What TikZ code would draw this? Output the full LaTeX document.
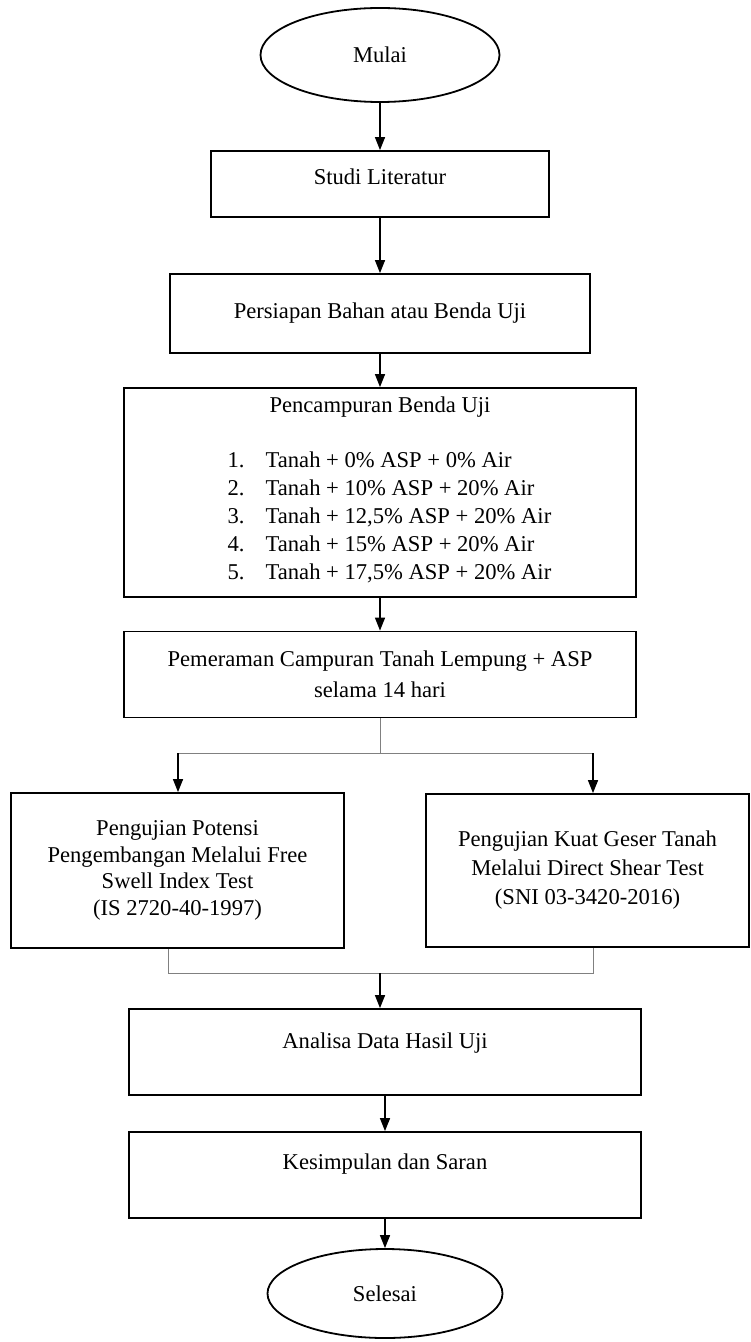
\documentclass[tikz,border=0pt]{standalone}
\usepackage{fontspec}
\setmainfont{Liberation Serif}
\usetikzlibrary{shapes.geometric,arrows.meta}

\begin{document}
\begin{tikzpicture}[x=0.5pt,y=-0.5pt,
  font=\fontsize{11.3}{14}\selectfont,
  box/.style={draw,line width=0.9pt,align=center,inner sep=0pt},
  term/.style={draw,ellipse,line width=0.9pt,inner sep=0pt},
  arr/.style={-{Triangle[length=6.5pt,width=5pt]},line width=0.75pt},
  link/.style={draw=gray,line width=0.5pt}]
\useasboundingbox (0,0) rectangle (750,1342);

\node[term,minimum width=119.5pt,minimum height=47pt] (mulai) at (380,55) {Mulai};
\node[box,minimum width=169pt,minimum height=33pt,text depth=7pt] (studi) at (380,184) {Studi Literatur};
\node[box,minimum width=210pt,minimum height=39.5pt] (bahan) at (380,313.5) {Persiapan Bahan atau Benda Uji};
\node[box,minimum width=256pt,minimum height=104.5pt] (campur) at (380,492.5) {Pencampuran Benda Uji\\[14pt]
  \hspace*{9.5pt}\begin{tabular}{@{}l@{\hspace{10.5pt}}l@{}}
  1. & Tanah + 0\% ASP + 0\% Air\\
  2. & Tanah + 10\% ASP + 20\% Air\\
  3. & Tanah + 12,5\% ASP + 20\% Air\\
  4. & Tanah + 15\% ASP + 20\% Air\\
  5. & Tanah + 17,5\% ASP + 20\% Air
  \end{tabular}};
\node[box,minimum width=256pt,minimum height=43pt] (peram) at (380,674.5) {Pemeraman Campuran Tanah Lempung + ASP\\[1.5pt] selama 14 hari};

\node[box,minimum width=166.5pt,minimum height=77.5pt,font=\fontsize{11.3}{13.3}\selectfont] (swell) at (177.5,870.5) {Pengujian Potensi\\ Pengembangan Melalui Free\\ Swell Index Test\\ (IS 2720-40-1997)};
\node[box,minimum width=161.5pt,minimum height=76.5pt,font=\fontsize{11.3}{14.5}\selectfont] (geser) at (587.5,870.5) {Pengujian Kuat Geser Tanah\\ Melalui Direct Shear Test\\ (SNI 03-3420-2016)};

\node[box,minimum width=256pt,minimum height=43pt,text depth=11pt] (analisa) at (385,1052) {Analisa Data Hasil Uji};
\node[box,minimum width=256pt,minimum height=43pt,text depth=13pt] (saran) at (385,1175) {Kesimpulan dan Saran};
\node[term,minimum width=117.5pt,minimum height=44.5pt] (selesai) at (385,1293.5) {Selesai};

\draw[arr] (mulai) -- (studi);
\draw[arr] (studi) -- (bahan);
\draw[arr] (bahan) -- (campur);
\draw[arr] (campur) -- (peram);

% cabang ke dua pengujian
\coordinate (pisah) at (380,753);
\coordinate (pisahL) at (178,753);
\coordinate (pisahR) at (593,753);
\draw[link] (peram) -- (pisah);
\draw[link] (pisahL) -- (pisahR);
\draw[arr] (pisahL) -- (pisahL |- swell.north);
\draw[arr] (pisahR) -- (pisahR |- geser.north);

% gabung lagi
\coordinate (gabungL) at (168,973);
\coordinate (gabungR) at (593,973);
\coordinate (gabung) at (380,973);
\draw[link] (gabungL |- swell.south) -- (gabungL) -- (gabungR) -- (gabungR |- geser.south);
\draw[arr] (gabung) -- (gabung |- analisa.north);

\draw[arr] (analisa) -- (saran);
\draw[arr] (saran) -- (selesai);

\end{tikzpicture}
\end{document}
